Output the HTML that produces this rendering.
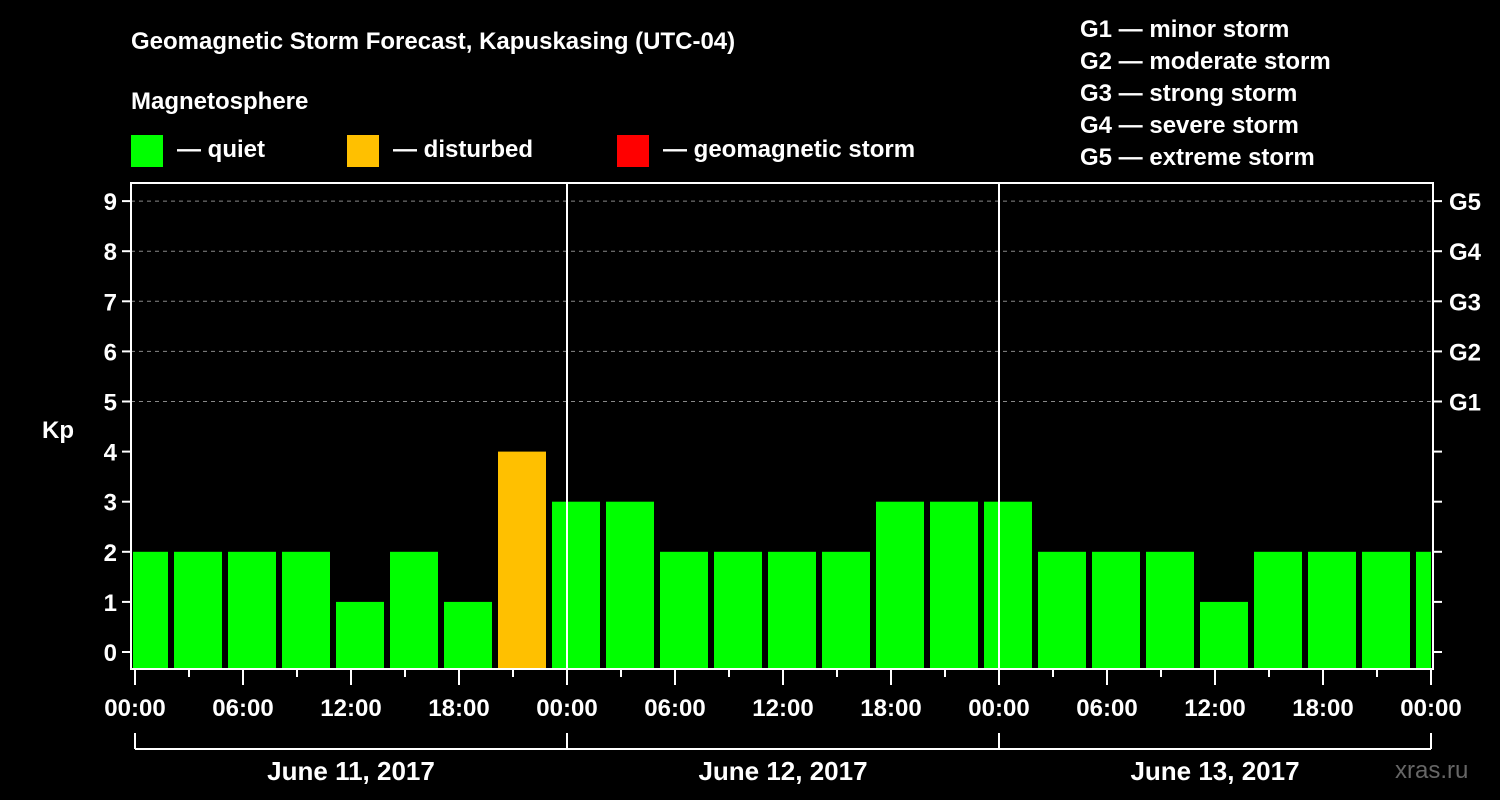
<!DOCTYPE html>
<html><head><meta charset="utf-8"><style>
body{margin:0;background:#000;}
svg{display:block;font-family:"Liberation Sans",sans-serif;font-weight:bold;}
</style></head><body>
<svg id="c" width="1500" height="800" viewBox="0 0 1500 800">
<rect width="1500" height="800" fill="#000"/>
<text x="131" y="49" fill="#fff" font-size="24">Geomagnetic Storm Forecast, Kapuskasing (UTC-04)</text>
<text x="131" y="109" fill="#fff" font-size="24">Magnetosphere</text>
<rect x="131" y="135" width="32" height="32" fill="#00ff00"/>
<text x="177" y="157" fill="#fff" font-size="24">— quiet</text>
<rect x="347" y="135" width="32" height="32" fill="#ffc000"/>
<text x="393" y="157" fill="#fff" font-size="24">— disturbed</text>
<rect x="617" y="135" width="32" height="32" fill="#ff0000"/>
<text x="663" y="157" fill="#fff" font-size="24">— geomagnetic storm</text>
<g fill="#fff" font-size="24">
<text x="1080" y="37">G1 — minor storm</text>
<text x="1080" y="69">G2 — moderate storm</text>
<text x="1080" y="101">G3 — strong storm</text>
<text x="1080" y="133">G4 — severe storm</text>
<text x="1080" y="165">G5 — extreme storm</text>
</g>
<text x="42" y="438" fill="#fff" font-size="24">Kp</text>
<text x="1395" y="778" fill="#666" font-size="24" font-weight="normal">xras.ru</text>
<g id="plot"></g>
</svg>
<script>
const values=[2,2,2,2,1,2,1,4,3,3,2,2,2,2,3,3,3,2,2,2,1,2,2,2,2];
const yTicks=[0,1,2,3,4,5,6,7,8,9];
const gLabels=["G1","G2","G3","G4","G5"];
const xTickLabels=["00:00","06:00","12:00","18:00","00:00","06:00","12:00","18:00","00:00","06:00","12:00","18:00","00:00"];
const dates=["June 11, 2017","June 12, 2017","June 13, 2017"];
const NS="http://www.w3.org/2000/svg";
const P=document.getElementById('plot');
const L=131,R=1433,T=183,B=669,X0=135;
const xh=h=>X0+18*h;           // hours -> px
const y=k=>652-50.1*k;
function el(t,a){const e=document.createElementNS(NS,t);for(const k in a)e.setAttribute(k,a[k]);P.appendChild(e);return e;}
// grid
for(let k=5;k<=9;k++){const g=el('line',{x1:L,x2:R,y1:y(k),y2:y(k),stroke:'#888','stroke-dasharray':'4,4','stroke-width':1});

}
// bars
const cp=el('clipPath',{id:'cp'});const cr=document.createElementNS(NS,'rect');
cr.setAttribute('x',L+2);cr.setAttribute('y',T);cr.setAttribute('width',R-L-4);cr.setAttribute('height',B-T);cp.appendChild(cr);
values.forEach((v,i)=>{const x=xh(3*i-0.8333);const col=v>=5?'#ff0000':(v>=4?'#ffc000':'#00ff00');
const r=el('rect',{x:x,y:y(v),width:48,height:B-1-y(v),fill:col,'clip-path':'url(#cp)'});

});
// day separators
[24,48].forEach(h=>{const l=el('line',{x1:xh(h),x2:xh(h),y1:T,y2:B,stroke:'#fff','stroke-width':2});

});
// frame
const f=el('rect',{x:L,y:T,width:R-L,height:B-T,fill:'none',stroke:'#fff','stroke-width':2});


// y ticks
yTicks.forEach(k=>{el('line',{x1:L-9,x2:L,y1:y(k),y2:y(k),stroke:'#fff','stroke-width':2});
el('line',{x1:R,x2:R+9,y1:y(k),y2:y(k),stroke:'#fff','stroke-width':2});
const t=el('text',{x:L-14,y:y(k)+9,fill:'#fff','font-size':24,'text-anchor':'end'});t.textContent=k;

});
gLabels.forEach((g,i)=>{const t=el('text',{x:R+16,y:y(5+i)+9,fill:'#fff','font-size':24});t.textContent=g;

});
// x ticks
for(let h=0;h<=72;h+=3){const major=h%6===0;el('line',{x1:xh(h),x2:xh(h),y1:B,y2:B+(major?16:8),stroke:'#fff','stroke-width':2});}
xTickLabels.forEach((s,i)=>{const t=el('text',{x:xh(6*i),y:716,fill:'#fff','font-size':24,'text-anchor':'middle'});t.textContent=s;

});
// date bracket
el('line',{x1:xh(0),x2:xh(72),y1:749,y2:749,stroke:'#fff','stroke-width':2});
for(let d=0;d<=3;d++)el('line',{x1:xh(24*d),x2:xh(24*d),y1:733,y2:749,stroke:'#fff','stroke-width':2});
dates.forEach((s,i)=>{const t=el('text',{x:xh(24*i+12),y:780,fill:'#fff','font-size':26,'text-anchor':'middle'});t.textContent=s;

});
</script>
</body></html>
